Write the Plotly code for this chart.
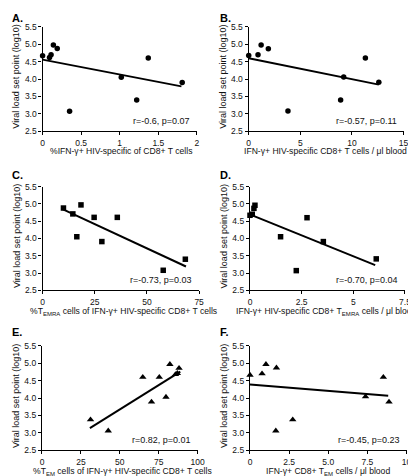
import plotly.graph_objects as go

# ---------------- data ----------------
a_x = [0, 0.09, 0.11, 0.14, 0.19, 0.35, 1.02, 1.22, 1.37, 1.81]
a_y = [4.67, 4.62, 4.70, 4.98, 4.88, 3.07, 4.05, 3.40, 4.61, 3.90]
a_fit_x = [0, 1.80]
a_fit_y = [4.56, 3.79]

b_x = [0, 0.9, 1.2, 1.9, 3.8, 8.9, 9.2, 11.3, 12.6]
b_y = [4.68, 4.70, 4.98, 4.87, 3.08, 3.40, 4.06, 4.61, 3.91]
b_fit_x = [0, 12.6]
b_fit_y = [4.60, 3.84]

c_x = [10.0, 14.5, 16.4, 18.4, 24.7, 28.4, 35.8, 57.8, 68.4]
c_y = [4.88, 4.71, 4.05, 4.97, 4.61, 3.91, 4.61, 3.08, 3.40]
c_fit_x = [9.8, 68.7]
c_fit_y = [4.84, 3.19]

d_x = [0, 0.11, 0.19, 0.24, 1.48, 2.24, 2.76, 3.55, 6.11]
d_y = [4.67, 4.70, 4.87, 4.96, 4.05, 3.07, 4.60, 3.91, 3.41]
d_fit_x = [0.05, 6.06]
d_fit_y = [4.68, 3.23]

e_x = [31.2, 42.6, 64.8, 70.4, 75.4, 79.7, 82.2, 85.8, 87.0, 88.1]
e_y = [3.38, 3.06, 4.60, 3.89, 4.60, 4.03, 4.97, 4.68, 4.71, 4.86]
e_fit_x = [30.8, 88.9]
e_fit_y = [3.14, 4.76]

f_x = [0, 0.77, 1.02, 1.69, 1.65, 2.73, 7.38, 8.52, 8.88]
f_y = [4.66, 4.70, 4.97, 4.87, 3.06, 3.38, 4.04, 4.60, 3.89]
f_fit_x = [0, 8.83]
f_fit_y = [4.39, 4.07]

y_ticks = [2.5, 3.0, 3.5, 4.0, 4.5, 5.0, 5.5]
y_ticktext = ["2.5", "3.0", "3.5", "4.0", "4.5", "5.0", "5.5"]

x_ticks = {
    "A": ([0, 0.5, 1, 1.5, 2], ["0", "0.5", "1", "1.5", "2"]),
    "B": ([0, 5, 10, 15], ["0", "5", "10", "15"]),
    "C": ([0, 25, 50, 75], ["0", "25", "50", "75"]),
    "D": ([0, 2.5, 5, 7.5], ["0", "2.5", "5", "7.5"]),
    "E": ([0, 25, 50, 75, 100], ["0", "25", "50", "75", "100"]),
    "F": ([0, 2.5, 5, 7.5, 10], ["0", "2.5", "5.0", "7.5", "10"]),
}

x_titles = {
    "A": "%IFN-γ+ HIV-specific of CD8+ T cells",
    "B": "IFN-γ+ HIV-specific CD8+ T cells / μl blood",
    "C": "%T<sub>EMRA</sub> cells of IFN-γ+ HIV-specific CD8+ T cells",
    "D": "IFN-γ+ HIV-specific CD8+ T<sub>EMRA</sub> cells / μl blood",
    "E": "%T<sub>EM</sub> cells of IFN-γ+ HIV-specific CD8+ T cells",
    "F": "IFN-γ+ CD8+ T<sub>EM</sub> cells / μl blood",
}
stats = {
    "A": "r=-0.6, p=0.07",
    "B": "r=-0.57, p=0.11",
    "C": "r=-0.73, p=0.03",
    "D": "r=-0.70, p=0.04",
    "E": "r=0.82, p=0.01",
    "F": "r=-0.45, p=0.23",
}
y_title = "Viral load set point (log10)"

# ---------------- layout geometry (pixels) ----------------
W, H = 416, 476
FONT = "Arial, Liberation Sans, sans-serif"

panels = [
    # key, xdata, ydata, fitx, fity, symbol, x-range, (left, right, top, bottom) px,
    # letter (x, y) px, x-title (cx, cy, yanchor) px
    ("A", a_x, a_y, a_fit_x, a_fit_y, "circle", [0, 2], (33.3, 191.0, 14.3, 120.7), (0, 5.5), (113.8, 140.7, "middle")),
    ("B", b_x, b_y, b_fit_x, b_fit_y, "circle", [0, 15], (244.0, 402.3, 14.3, 120.7), (213, 5.5), (322.5, 140.7, "middle")),
    ("C", c_x, c_y, c_fit_x, c_fit_y, "square", [0, 75], (33.3, 193.3, 177.3, 283.3), (0, 165.5), (115.8, 305.0, "middle")),
    ("D", d_x, d_y, d_fit_x, d_fit_y, "square", [0, 7.5], (245.3, 403.7, 177.3, 283.3), (213, 165.5), (323.0, 305.0, "middle")),
    ("E", e_x, e_y, e_fit_x, e_fit_y, "triangle-up", [0, 100], (32.7, 191.7, 340.0, 446.7), (0, 325.5), (115.3, 475.5, "bottom")),
    ("F", f_x, f_y, f_fit_x, f_fit_y, "triangle-up", [0, 10], (245.3, 405.3, 340.0, 446.7), (213, 325.5), (325.3, 475.5, "bottom")),
]

fig = go.Figure()
annotations = []
layout_axes = {}

for i, (key, xs, ys, fx, fy, sym, xr, (l, r, t, b), (lx, ly), (tx, ty, tya)) in enumerate(panels):
    n = "" if i == 0 else str(i + 1)
    xa, ya = "x" + n, "y" + n
    msize = 5.5 if sym != "triangle-up" else 6.5
    fig.add_trace(go.Scatter(
        x=xs, y=ys, mode="markers", xaxis=xa, yaxis=ya,
        marker=dict(symbol=sym, size=msize, color="black"),
        cliponaxis=False, showlegend=False, hoverinfo="skip"))
    fig.add_trace(go.Scatter(
        x=fx, y=fy, mode="lines", xaxis=xa, yaxis=ya,
        line=dict(color="black", width=2),
        cliponaxis=False, showlegend=False, hoverinfo="skip"))

    common = dict(showline=True, linecolor="black", linewidth=1.3, ticks="outside",
                  ticklen=3, tickwidth=1.3, tickcolor="black", showgrid=False,
                  zeroline=False, tickfont=dict(size=8.5, family=FONT, color="#111"),
                  fixedrange=True)
    layout_axes["xaxis" + n] = dict(common, domain=[l / W, r / W], anchor=ya, range=xr,
                                    tickmode="array", tickvals=x_ticks[key][0],
                                    ticktext=x_ticks[key][1])
    layout_axes["yaxis" + n] = dict(common, domain=[1 - b / H, 1 - t / H], anchor=xa,
                                    range=[2.5, 5.5], tickmode="array",
                                    tickvals=y_ticks, ticktext=y_ticktext)

    # panel letter
    annotations.append(dict(text="<b>%s.</b>" % key, xref="paper", yref="paper",
                            x=lx / W, y=1 - ly / H,
                            xanchor="left", yanchor="middle", showarrow=False,
                            font=dict(size=11, family=FONT, color="black")))
    # x title
    annotations.append(dict(text=x_titles[key], xref="paper", yref="paper",
                            x=tx / W, y=1 - ty / H,
                            xanchor="center", yanchor=tya, showarrow=False,
                            font=dict(size=8.6, family=FONT, color="#111")))
    # y title
    annotations.append(dict(text=y_title, xref="paper", yref="paper",
                            x=(l - 26.6) / W, y=1 - ((t + b) / 2 - 2) / H,
                            xanchor="center", yanchor="middle", showarrow=False,
                            textangle=-90,
                            font=dict(size=9, family=FONT, color="#111")))
    # stats
    annotations.append(dict(text=stats[key], xref="paper", yref="paper",
                            x=(r - 5) / W, y=1 - (b - 10.5) / H,
                            xanchor="right", yanchor="middle", showarrow=False,
                            font=dict(size=9, family=FONT, color="#111")))

fig.update_layout(
    width=W, height=H,
    margin=dict(l=0, r=0, t=0, b=0),
    paper_bgcolor="white", plot_bgcolor="white",
    annotations=annotations,
    font=dict(family=FONT, color="black"),
    **layout_axes,
)

fig.write_html("out.html")
